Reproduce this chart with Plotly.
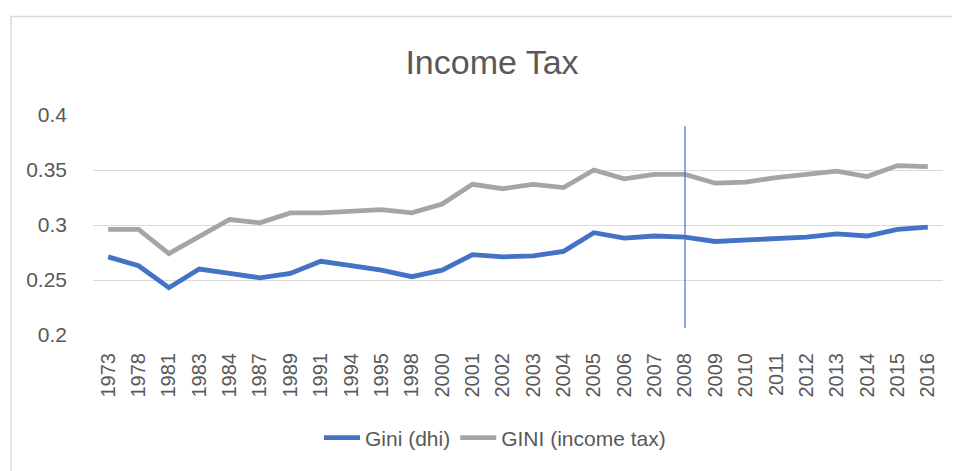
import plotly.graph_objects as go

years = ["1973", "1978", "1981", "1983", "1984", "1987", "1989", "1991", "1994", "1995",
         "1998", "2000", "2001", "2002", "2003", "2004", "2005", "2006", "2007", "2008",
         "2009", "2010", "2011", "2012", "2013", "2014", "2015", "2016"]
gini_dhi = [0.271, 0.263, 0.243, 0.260, 0.256, 0.252, 0.256, 0.267, 0.263, 0.259,
            0.253, 0.259, 0.273, 0.271, 0.272, 0.276, 0.293, 0.288, 0.290, 0.289,
            0.285, 0.286, 0.287, 0.289, 0.292, 0.290, 0.296, 0.298]
gini_tax = [0.296, 0.296, 0.274, 0.289, 0.305, 0.302, 0.311, 0.311, 0.312, 0.314,
            0.311, 0.319, 0.337, 0.333, 0.337, 0.334, 0.350, 0.342, 0.346, 0.346,
            0.338, 0.339, 0.343, 0.346, 0.349, 0.344, 0.354, 0.353]
marker_year = "2008"
marker_span = [0.2064, 0.39]

FONT = "Liberation Sans"
TXT = "#595959"
GRID = "#d9d9d9"

# page body has an 8px default margin; figure is sized to fit the window
W, H = 952, 463
L, R, T, B = 85, 17, 107, 136
PW, PH = W - L - R, H - T - B

fig = go.Figure()
fig.add_trace(go.Scatter(x=years, y=gini_dhi, mode="lines", name="Gini (dhi)",
                         line=dict(color="#4472C4", width=4.8)))
fig.add_trace(go.Scatter(x=years, y=gini_tax, mode="lines", name="GINI (income tax)",
                         line=dict(color="#A5A5A5", width=4.8)))

mx = years.index(marker_year)
fig.add_shape(type="line", xref="x", yref="y", x0=mx, x1=mx,
              y0=marker_span[0], y1=marker_span[1], line=dict(color="#4472C4", width=1.2))
# chart border
fig.add_shape(type="rect", xref="paper", yref="paper",
              x0=(3 - L) / PW, x1=(W + 5 - L) / PW,
              y0=-(B + 10) / PH, y1=(T - 8.5) / PH + 1,
              line=dict(color=GRID, width=1.5), fillcolor="rgba(0,0,0,0)", layer="below")

fig.update_layout(
    width=W, height=H,
    margin=dict(l=L, r=R, t=T, b=B, autoexpand=False),
    paper_bgcolor="white", plot_bgcolor="white",
    font=dict(family=FONT, color=TXT, size=20),
    title=dict(text="Income Tax", x=484 / W, xref="container", xanchor="center",
               y=1 - 54 / H, yref="container", yanchor="middle",
               font=dict(family=FONT, size=34, color=TXT)),
    showlegend=True,
    legend=dict(orientation="h", x=487 / W, xref="container", xanchor="center",
                y=1 - 430 / H, yref="container", yanchor="middle",
                font=dict(family=FONT, size=21, color=TXT), itemwidth=36,
                bgcolor="rgba(0,0,0,0)"),
)
fig.update_xaxes(type="category", range=[-0.5, len(years) - 0.5], tickangle=-90,
                 showgrid=False, showline=False, zeroline=False,
                 tickfont=dict(family=FONT, size=20, color=TXT),
                 ticks="", ticklabelstandoff=13)
fig.update_yaxes(range=[0.2, 0.4], dtick=0.05, tick0=0.2, showgrid=True, gridcolor=GRID,
                 gridwidth=1.3, zeroline=False, showline=False, ticks="",
                 tickfont=dict(family=FONT, size=21, color=TXT), ticklabelstandoff=25)

fig.write_html("out.html")
